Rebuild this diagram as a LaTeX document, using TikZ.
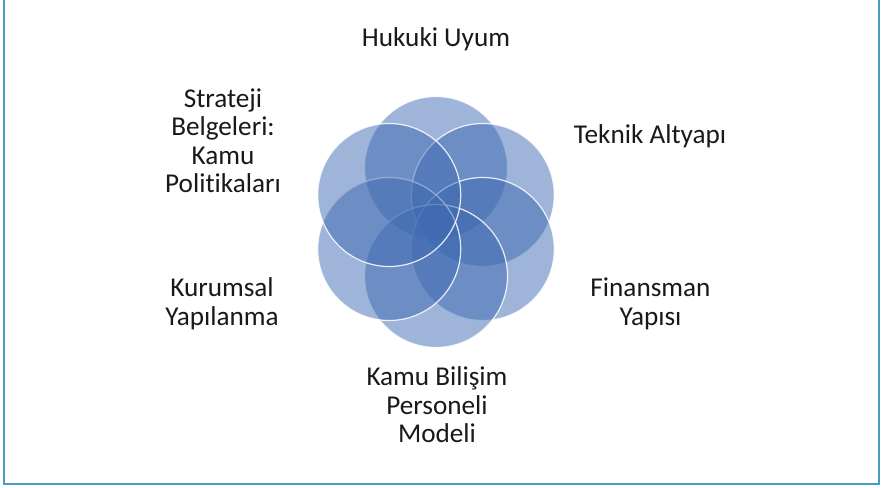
\documentclass[tikz,border=0pt]{standalone}
\usepackage{fontspec}
\setmainfont{Carlito}[Ligatures=NoCommon]
\definecolor{petal}{RGB}{62,106,178}
\definecolor{frameblue}{RGB}{70,155,200}
\begin{document}
\begin{tikzpicture}[x=0.75pt,y=-0.75pt,
  petalc/.style={circle,minimum size=107.25pt,inner sep=0pt,fill=petal,fill opacity=0.5,draw=white,draw opacity=0.85,line width=0.9pt},
  lbl/.style={font=\fontsize{20.4}{21.4}\selectfont,align=center,inner sep=0pt,anchor=base,text=black!90}]
\useasboundingbox (0,0) rectangle (881,488);
\fill[white] (0,0) rectangle (881,488);
\coordinate (fTL) at (3.8,-10);
\coordinate (fBL) at (3.8,483.8);
\coordinate (fBR) at (879.2,483.8);
\coordinate (fTR) at (879.2,-10);
\draw[frameblue,line width=1.3pt] (fTL) -- (fBL) -- (fBR) -- (fTR);
\node[petalc] (p1) at (436,168) {};
\node[petalc] (p2) at (482.8,195) {};
\node[petalc] (p3) at (482.8,249) {};
\node[petalc] (p4) at (436,276) {};
\node[petalc] (p5) at (389.2,249) {};
\node[petalc] (p6) at (389.2,195) {};
\node[lbl] (t1) at (436,47) {Hukuki Uyum};
\node[lbl] (t2) at (650,143.3) {Teknik Altyapı};
\node[lbl] (t3) at (650.5,325) {Finansman\\Yapısı};
\node[lbl] (t4) at (437,442.7) {Kamu Bilişim\\Personeli\\Modeli};
\node[lbl] (t5) at (222,325) {Kurumsal\\Yapılanma};
\node[lbl] (t6) at (223,193) {Strateji\\Belgeleri:\\Kamu\\Politikaları};
\end{tikzpicture}
\end{document}
